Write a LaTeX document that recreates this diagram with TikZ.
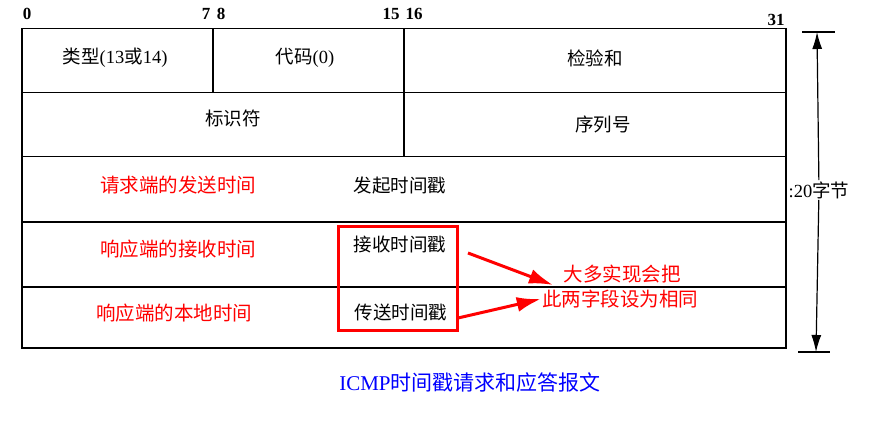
\documentclass[tikz,border=0pt]{standalone}
\usepackage{fontspec}
\setmainfont{Liberation Serif}
\newfontfamily\cjk{Noto Sans CJK SC}
\usepackage{tikz}
\usetikzlibrary{arrows.meta,positioning,fit}
\newcommand{\zh}[1]{{\cjk #1}}
\tikzset{
  cell/.style={
    rectangle,
    draw=black,
    line width=1.5pt,
    anchor=north west,
    inner sep=0pt
  },
  fieldtext/.style={
    font=\fontsize{18.5}{20}\selectfont,
    inner sep=1pt
  },
  notetext/.style={
    text=red,
    font=\fontsize{19.5}{21}\selectfont,
    inner sep=1pt
  },
  bitnum/.style={
    font=\fontsize{17}{19}\selectfont\bfseries,
    inner sep=1pt
  },
  lenline/.style={-{Latex[length=17pt,width=10pt]},line width=1.2pt},
  redline/.style={-{Latex[length=24pt,width=15pt]},red,line width=3pt}
}
\begin{document}
\begin{tikzpicture}[x=1pt,y=-1pt]
  \useasboundingbox (0,0) rectangle (875,422);
  \node[cell, minimum width=191, minimum height=64] (type) at (21,28) {};
  \node[cell, minimum width=191, minimum height=64] (code) at (212,28) {};
  \node[cell, minimum width=382, minimum height=64] (sum) at (403,28) {};
  \node[cell, minimum width=382, minimum height=64] (ident) at (21,92) {};
  \node[cell, minimum width=382, minimum height=64] (seq) at (403,92) {};
  \node[cell, minimum width=764, minimum height=65] (orig) at (21,156) {};
  \node[cell, minimum width=764, minimum height=65] (recv) at (21,221) {};
  \node[cell, minimum width=764, minimum height=61] (tran) at (21,286) {};

  \node[bitnum] (b0) at (27,14) {0};
  \node[bitnum] (b7) at (206,14) {7};
  \node[bitnum] (b8) at (221,14) {8};
  \node[bitnum] (b15) at (391,14) {15};
  \node[bitnum] (b16) at (414,14) {16};
  \node[bitnum] (b31) at (776,20) {31};

  \node[fieldtext] (typetxt) at (115,58) {\zh{类型}(13\zh{或}14)};
  \node[fieldtext] (codetxt) at (305,58) {\zh{代码}(0)};
  \node[fieldtext] (sumtxt) at (595,58) {\zh{检验和}};
  \node[fieldtext] (identtxt) at (233,118) {\zh{标识符}};
  \node[fieldtext] (seqtxt) at (603,124) {\zh{序列号}};
  \node[fieldtext] (origtxt) at (400,186) {\zh{发起时间戳}};
  \node[fieldtext] (recvtxt) at (400,244) {\zh{接收时间戳}};
  \node[fieldtext] (trantxt) at (401,312) {\zh{传送时间戳}};

  \node[notetext] (orignote) at (178,185) {\zh{请求端的发送时间}};
  \node[notetext] (recvnote) at (178,249) {\zh{响应端的接收时间}};
  \node[notetext] (trannote) at (174,313) {\zh{响应端的本地时间}};

  \node[draw=red, line width=3.2pt, minimum width=119, minimum height=104, anchor=north west] (pair) at (337,225) {};
  \node[notetext] (note1) at (622,274) {\zh{大多实现会把}};
  \node[notetext] (note2) at (620,299) {\zh{此两字段设为相同}};
  \coordinate (from1) at (468,253);
  \coordinate (from2) at (458,318);
  \coordinate (to1) at (553,285);
  \draw[redline] (from1) -- (to1);
  \draw[redline] (from2) -- (note2.west);

  \coordinate (top) at (817,32);
  \coordinate (bot) at (816,352);
  \node[fieldtext, fill=white] (len) at (819,190) {:20\zh{字节}};
  \draw[line width=1.2pt] ([xshift=-15pt]top) -- ([xshift=18pt]top);
  \draw[line width=1.2pt] ([xshift=-18pt]bot) -- ([xshift=14pt]bot);
  \draw[lenline] (len) -- (top);
  \draw[lenline] (len) -- (bot);

  \node[font=\fontsize{21}{23}\selectfont, text=blue] (caption) at (470,383) {ICMP\zh{时间戳请求和应答报文}};
\end{tikzpicture}
\end{document}
